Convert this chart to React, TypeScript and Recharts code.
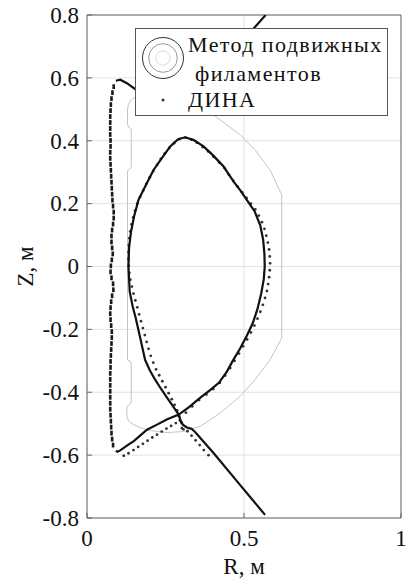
import React from 'react';
import { ScatterChart, Scatter, XAxis, YAxis, CartesianGrid, Legend } from 'recharts';

// values, [R, Z] in metres
const rTicks = [0, 0.5, 1];
const zTicks = [-0.8, -0.6, -0.4, -0.2, 0, 0.2, 0.4, 0.6, 0.8];

const filamentsName = 'Метод подвижных филаментов';
const dinaName = 'ДИНА';

// separatrix from the moving-filament method: left leg -> X-point -> around the plasma -> X-point -> right leg
const filamentsSeparatrix: [number, number][] = [
  [0.092, -0.586], [0.097, -0.589], [0.106, -0.585], [0.117, -0.577], [0.133, -0.566], [0.148, -0.556],
  [0.17, -0.537], [0.191, -0.519], [0.223, -0.503], [0.254, -0.487], [0.292, -0.471],
  [0.325, -0.447], [0.36, -0.418], [0.39, -0.395], [0.42, -0.37], [0.445, -0.335], [0.466, -0.297],
  [0.488, -0.26], [0.509, -0.22], [0.528, -0.18], [0.543, -0.135], [0.555, -0.085], [0.563, -0.04],
  [0.566, 0], [0.565, 0.04], [0.561, 0.085], [0.552, 0.13], [0.534, 0.175], [0.51, 0.21],
  [0.49, 0.24], [0.467, 0.27], [0.451, 0.294], [0.435, 0.318], [0.4, 0.355], [0.371, 0.382], [0.34, 0.402],
  [0.313, 0.411], [0.29, 0.405], [0.265, 0.382], [0.24, 0.347], [0.212, 0.307], [0.188, 0.26],
  [0.164, 0.212], [0.15, 0.16], [0.14, 0.11], [0.134, 0.06], [0.132, 0], [0.136, -0.08],
  [0.146, -0.13], [0.154, -0.159], [0.168, -0.22], [0.185, -0.297], [0.2, -0.33], [0.217, -0.36],
  [0.235, -0.388], [0.252, -0.413], [0.272, -0.442], [0.292, -0.471], [0.298, -0.49], [0.305, -0.503],
  [0.318, -0.512], [0.333, -0.516], [0.345, -0.527], [0.403, -0.593], [0.48, -0.686], [0.567, -0.79],
];

// outer flux lines that run behind the legend
const filamentsUpperLeft: [number, number][] = [
  [0.092, 0.591], [0.106, 0.594], [0.127, 0.583], [0.154, 0.564], [0.175, 0.553],
];
const filamentsUpperRight: [number, number][] = [
  [0.52, 0.745], [0.569, 0.8],
];

const dinaSeparatrix: [number, number][] = [
  [0.117, -0.602], [0.132, -0.594], [0.148, -0.584], [0.163, -0.574], [0.178, -0.564], [0.193, -0.554],
  [0.208, -0.544], [0.223, -0.535], [0.238, -0.525], [0.253, -0.516], [0.268, -0.507], [0.283, -0.498],
  [0.296, -0.489], [0.315, -0.465], [0.335, -0.445], [0.357, -0.425], [0.38, -0.407], [0.402, -0.39],
  [0.423, -0.37], [0.44, -0.347], [0.456, -0.323], [0.47, -0.3], [0.484, -0.277], [0.497, -0.254],
  [0.51, -0.232], [0.522, -0.21], [0.533, -0.188], [0.543, -0.166], [0.552, -0.144], [0.56, -0.122],
  [0.567, -0.1], [0.573, -0.078], [0.577, -0.056], [0.58, -0.034], [0.582, -0.012], [0.583, 0.01],
  [0.582, 0.032], [0.58, 0.054], [0.576, 0.076], [0.571, 0.098], [0.565, 0.12], [0.557, 0.141],
  [0.547, 0.162], [0.536, 0.182], [0.522, 0.2], [0.508, 0.218], [0.494, 0.236], [0.48, 0.254],
  [0.466, 0.272], [0.452, 0.292], [0.438, 0.313], [0.421, 0.331], [0.403, 0.349], [0.386, 0.366],
  [0.368, 0.38], [0.35, 0.394], [0.332, 0.404], [0.313, 0.41], [0.294, 0.405], [0.277, 0.392],
  [0.262, 0.377], [0.248, 0.36], [0.235, 0.342], [0.223, 0.323], [0.211, 0.304], [0.2, 0.284],
  [0.189, 0.263], [0.179, 0.242], [0.169, 0.221], [0.16, 0.2], [0.153, 0.178], [0.147, 0.156],
  [0.142, 0.134], [0.138, 0.112], [0.135, 0.09], [0.133, 0.068], [0.132, 0.046], [0.132, 0.024],
  [0.133, 0.002], [0.135, -0.02], [0.138, -0.042], [0.143, -0.064], [0.148, -0.086], [0.154, -0.108],
  [0.16, -0.13], [0.166, -0.152], [0.172, -0.174], [0.178, -0.196], [0.184, -0.218], [0.19, -0.24],
  [0.196, -0.262], [0.203, -0.284], [0.211, -0.306], [0.22, -0.327], [0.23, -0.346], [0.24, -0.365],
  [0.25, -0.384], [0.26, -0.403], [0.27, -0.422], [0.279, -0.44], [0.287, -0.458], [0.293, -0.476],
  [0.3, -0.496], [0.302, -0.514], [0.307, -0.518], [0.32, -0.524], [0.333, -0.538], [0.346, -0.553],
  [0.359, -0.568], [0.372, -0.584], [0.387, -0.6],
];

// dense DINA points along the inner wall side
const dinaInnerLine: [number, number][] = [
  [0.085, 0.572], [0.081, 0.553], [0.078, 0.534], [0.076, 0.515], [0.075, 0.496], [0.074, 0.477],
  [0.074, 0.458], [0.074, 0.439], [0.074, 0.42], [0.075, 0.401], [0.075, 0.382], [0.074, 0.363],
  [0.074, 0.344], [0.075, 0.325], [0.076, 0.306], [0.077, 0.287], [0.078, 0.268], [0.079, 0.249],
  [0.08, 0.23], [0.081, 0.211], [0.083, 0.192], [0.085, 0.173], [0.085, 0.154], [0.083, 0.135],
  [0.08, 0.116], [0.078, 0.097], [0.078, 0.078], [0.08, 0.059], [0.082, 0.04], [0.079, 0.021],
  [0.076, 0.002], [0.075, -0.017], [0.078, -0.036], [0.083, -0.055], [0.084, -0.074], [0.08, -0.093],
  [0.077, -0.112], [0.075, -0.131], [0.074, -0.15], [0.075, -0.169], [0.077, -0.188], [0.079, -0.207],
  [0.079, -0.226], [0.078, -0.245], [0.077, -0.264], [0.076, -0.283], [0.075, -0.302], [0.075, -0.321],
  [0.074, -0.34], [0.074, -0.359], [0.074, -0.378], [0.074, -0.397], [0.074, -0.416], [0.074, -0.435],
  [0.074, -0.454], [0.075, -0.473], [0.076, -0.492], [0.077, -0.511], [0.078, -0.53], [0.08, -0.549],
  [0.083, -0.568],
];

// vacuum vessel contour (thin grey)
const vesselContour: [number, number][] = [
  [0.154, 0.54], [0.138, 0.527], [0.131, 0.512], [0.129, 0.498], [0.129, 0.452], [0.133, 0.443],
  [0.141, 0.438], [0.141, 0.318], [0.137, 0.31], [0.129, 0.305], [0.129, -0.297], [0.137, -0.301],
  [0.141, -0.308], [0.141, -0.433], [0.133, -0.44], [0.127, -0.447], [0.127, -0.477], [0.133, -0.492],
  [0.148, -0.503], [0.17, -0.513], [0.191, -0.519], [0.222, -0.525], [0.255, -0.528], [0.307, -0.525],
  [0.36, -0.509], [0.424, -0.466], [0.488, -0.413], [0.535, -0.36], [0.583, -0.297], [0.62, -0.228],
  [0.62, 0.228], [0.583, 0.307], [0.535, 0.371], [0.488, 0.419], [0.403, 0.482], [0.35, 0.51],
  [0.28, 0.535], [0.2, 0.545], [0.154, 0.54],
];

const toPoints = (pairs: [number, number][]) => pairs.map(([r, z]) => ({ r, z }));

const FONT = '"Liberation Serif", "Times New Roman", serif';
const textStyle = { fontFamily: FONT, fontSize: 23, fill: '#111' };

const NoDot = () => <g />;
const DinaDot = (p: any) => <circle cx={p.cx} cy={p.cy} r={1.4} fill="#333" />;
const DinaDash = (p: any) => (
  <rect x={p.cx - 1.3} y={p.cy - 2.4} width={2.6} height={4.8} fill="#1a1a1a" />
);

const RTick = (p: any) => (
  <text x={p.x} y={p.y} dy="0.71em" textAnchor="middle" style={textStyle}>
    {p.payload.value}
  </text>
);
const ZTick = (p: any) => (
  <text x={p.x} y={p.y} dy="0.34em" textAnchor="end" style={textStyle}>
    {p.payload.value}
  </text>
);

const RLabel = (p: any) => {
  const vb = p.viewBox;
  return (
    <text x={vb.x + vb.width / 2} y={vb.y + vb.height - 5} textAnchor="middle" style={textStyle}>
      R, м
    </text>
  );
};
const ZLabel = (p: any) => {
  const vb = p.viewBox;
  const cx = vb.x + 33;
  const cy = vb.y + vb.height / 2;
  return (
    <text x={cx} y={cy} textAnchor="middle" transform={`rotate(-90 ${cx} ${cy})`} style={textStyle}>
      Z, м
    </text>
  );
};

const LegendBox = () => (
  <div
    style={{
      width: 253,
      height: 88,
      boxSizing: 'border-box',
      border: '1px solid #555',
      background: '#fff',
    }}
  >
    <svg width={251} height={86} style={{ display: 'block' }}>
      <circle cx={27} cy={29} r={20.5} fill="none" stroke="#333" strokeWidth={1} />
      <circle cx={27} cy={29} r={14.3} fill="none" stroke="#999" strokeWidth={1} />
      <circle cx={27} cy={29} r={7.2} fill="none" stroke="#ddd" strokeWidth={1} />
      <circle cx={27} cy={71} r={1.5} fill="#333" />
      <g style={{ fontFamily: FONT, fontSize: 22, fill: '#111', letterSpacing: 1.4 }}>
        <text x={52} y={23}>Метод подвижных</text>
        <text x={59} y={52}>филаментов</text>
        <text x={52} y={78}>{dinaName}</text>
      </g>
    </svg>
  </div>
);

export default function App() {
  return (
    <div
      style={{
        position: 'absolute',
        left: 0,
        top: 0,
        width: 406,
        height: 579,
        background: '#fff',
        fontFamily: FONT,
      }}
    >
      <ScatterChart width={406} height={579} margin={{ top: 14, right: 4, bottom: 0, left: 0 }}>
        <CartesianGrid stroke="#e2e2e2" strokeWidth={1} />
        <XAxis
          type="number"
          dataKey="r"
          domain={[0, 1]}
          allowDataOverflow
          ticks={rTicks}
          height={61}
          stroke="#666"
          tickSize={-5}
          tickMargin={17}
          tick={RTick}
          label={{ content: RLabel }}
        />
        <YAxis
          type="number"
          dataKey="z"
          domain={[-0.8, 0.8]}
          allowDataOverflow
          ticks={zTicks}
          width={87}
          stroke="#666"
          tickSize={-5}
          tickMargin={13}
          tick={ZTick}
          label={{ content: ZLabel }}
        />
        <XAxis
          xAxisId="top"
          orientation="top"
          type="number"
          domain={[0, 1]}
          allowDataOverflow
          ticks={rTicks}
          height={1}
          stroke="#666"
          tickSize={-5}
          tick={false}
        />
        <YAxis
          yAxisId="right"
          orientation="right"
          type="number"
          domain={[-0.8, 0.8]}
          allowDataOverflow
          ticks={zTicks}
          width={1}
          stroke="#666"
          tickSize={-5}
          tick={false}
        />
        <Scatter
          name="vessel"
          data={toPoints(vesselContour)}
          line={{ stroke: '#c4c4c4', strokeWidth: 1 }}
          shape={NoDot}
          legendType="none"
          isAnimationActive={false}
        />
        <Scatter name={dinaName} data={toPoints(dinaSeparatrix)} shape={DinaDot} isAnimationActive={false} />
        <Scatter name={dinaName} data={toPoints(dinaInnerLine)} shape={DinaDash} legendType="none" isAnimationActive={false} />
        <Scatter
          name={filamentsName}
          data={toPoints(filamentsSeparatrix)}
          line={{ stroke: '#111', strokeWidth: 2.2 }}
          shape={NoDot}
          isAnimationActive={false}
        />
        <Scatter
          name={filamentsName}
          data={toPoints(filamentsUpperLeft)}
          line={{ stroke: '#111', strokeWidth: 2.2 }}
          shape={NoDot}
          legendType="none"
          isAnimationActive={false}
        />
        <Scatter
          name={filamentsName}
          data={toPoints(filamentsUpperRight)}
          line={{ stroke: '#111', strokeWidth: 2.2 }}
          shape={NoDot}
          legendType="none"
          isAnimationActive={false}
        />
        <Legend
          layout="horizontal"
          verticalAlign="middle"
          align="center"
          content={LegendBox}
          wrapperStyle={{ left: 135, top: 28, width: 253, height: 88 }}
        />
      </ScatterChart>
    </div>
  );
}
